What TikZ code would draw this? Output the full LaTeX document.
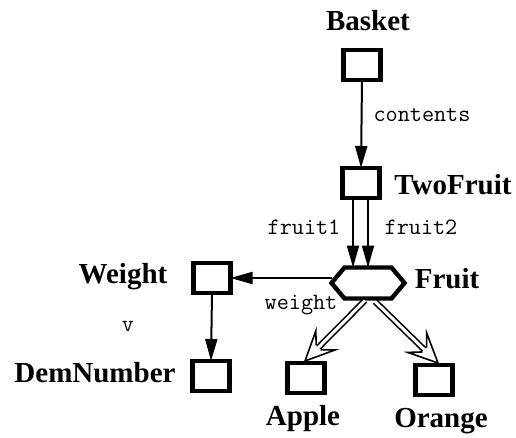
\documentclass[tikz,border=0pt]{standalone}
\usepackage{fontspec}
\setmainfont{Liberation Serif}
\usetikzlibrary{arrows.meta,calc}
\begin{document}
\begin{tikzpicture}[x=1pt,y=-1pt,
  tbox/.style={draw,line width=4.6pt,minimum width=37pt,minimum height=30pt,inner sep=0pt,outer sep=0pt},
  title/.style={font=\fontsize{29}{30}\selectfont\bfseries,inner sep=0pt},
  lab/.style={font=\fontsize{23.5}{24}\selectfont\ttfamily,inner sep=0pt},
  conn/.style={line width=2pt,-{Triangle[length=22pt,width=12pt]}},
  sub/.style={line width=1.6pt,double,double distance=3pt},
  subhead/.style={line width=1.6pt,fill=white,line join=miter}
]
\useasboundingbox (0,0) rectangle (516,437);
\node[tbox] (b) at (362,65) {};
\node[tbox] (tf) at (361,183) {};
\node[tbox] (w) at (212,278) {};
\node[tbox] (d) at (211,376) {};
\node[tbox] (a) at (306,378) {};
\node[tbox] (o) at (434,380) {};
\node[minimum width=73pt,minimum height=31pt,inner sep=0pt,outer sep=0pt] (fr) at (368,283) {};
\draw[line width=4.4pt,line join=miter] (fr.west) -- ([xshift=13pt]fr.north west) -- ([xshift=-13pt]fr.north east) -- (fr.east) -- ([xshift=-13pt]fr.south east) -- ([xshift=13pt]fr.south west) -- cycle;

\node[title] (tb) at (368,21) {Basket};
\node[title] (ttf) at (453,185) {TwoFruit};
\node[title] (tw) at (123,277) {Weight};
\node[title] (td) at (95,373) {DemNumber};
\node[title] (tfr) at (447,279) {Fruit};
\node[title] (ta) at (303,419) {Apple};
\node[title] (to) at (441,421) {Orange};

\draw[conn] (b.south) -- (tf.north);
\node[lab] (lc) at (422,115) {contents};
\draw[conn] ([xshift=-8pt]tf.south) -- ([xshift=-8pt]tf.south |- fr.north);
\draw[conn] ([xshift=7pt]tf.south) -- ([xshift=7pt]tf.south |- fr.north);
\node[lab] (lf1) at (304,227) {fruit1};
\node[lab] (lf2) at (421,227) {fruit2};
\draw[conn] (w.east -| fr.west) -- (w.east);
\node[lab] (lw) at (301,305) {weight};
\draw[conn] (w.south) -- (d.north);
\node[lab] (lv) at (128,326) {v};

% subtype arrows (double shaft, open barbed head)
\coordinate (sa) at ([xshift=-3pt,yshift=-2pt]fr.south);
\coordinate (ea) at ([xshift=-1pt,yshift=2pt]a.north);
\coordinate (so) at ([xshift=7pt,yshift=-3pt]fr.south);
\coordinate (eo) at ([xshift=4pt,yshift=2pt]o.north);
\foreach \s/\e in {sa/ea,so/eo}{
  \coordinate (n) at ($(\e)!19pt!(\s)$);
  \draw[sub] (\s) -- (n);
  \filldraw[subhead] ($(n)!3.1pt!90:(\s)$) -- ($(\e)!32pt!25:(\s)$) -- (\e) -- ($(\e)!32pt!-25:(\s)$) -- ($(n)!3.1pt!-90:(\s)$);
}
\end{tikzpicture}
\end{document}
